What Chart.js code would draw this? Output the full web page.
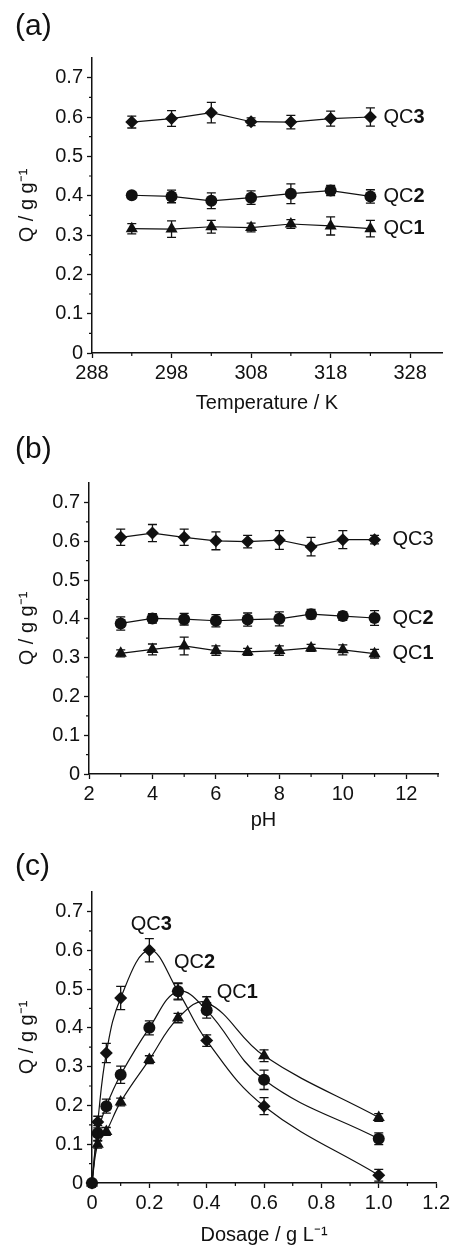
<!DOCTYPE html>
<html>
<head>
<meta charset="utf-8">
<script src="https://cdn.jsdelivr.net/npm/chart.js@4.4.0/dist/chart.umd.min.js"></script>
<style>
  html, body { margin: 0; padding: 0; background: #fff; }
  canvas { display: block; }
</style>
</head>
<body>
<canvas id="chartA" width="453" height="420"></canvas>
<canvas id="chartB" width="453" height="420"></canvas>
<canvas id="chartC" width="453" height="410"></canvas>
<script>
// ---- data ----
const yTicks = [0, 0.1, 0.2, 0.3, 0.4, 0.5, 0.6, 0.7];
const yMinor = [0.05, 0.15, 0.25, 0.35, 0.45, 0.55, 0.65];

// (a) temperature
const tempK = [293, 298, 303, 308, 313, 318, 323];
const tempTicks = [288, 298, 308, 318, 328];
const tempMinor = [293, 303, 313, 323];
const aQC1 = [0.316, 0.315, 0.321, 0.319, 0.328, 0.323, 0.316];
const aQC1Err = [0.013, 0.021, 0.016, 0.011, 0.011, 0.023, 0.021];
const aQC2 = [0.401, 0.398, 0.387, 0.395, 0.405, 0.413, 0.398];
const aQC2Err = [0.008, 0.016, 0.020, 0.017, 0.025, 0.013, 0.017];
const aQC3 = [0.587, 0.596, 0.611, 0.588, 0.587, 0.596, 0.600];
const aQC3Err = [0.015, 0.020, 0.026, 0.010, 0.017, 0.019, 0.023];

// (b) pH
const phVals = [3, 4, 5, 6, 7, 8, 9, 10, 11];
const phTicks = [2, 4, 6, 8, 10, 12];
const phMinor = [3, 5, 7, 9, 11, 13];
const bQC1 = [0.311, 0.321, 0.330, 0.318, 0.315, 0.318, 0.325, 0.320, 0.310];
const bQC1Err = [0.009, 0.014, 0.023, 0.012, 0.009, 0.012, 0.009, 0.013, 0.011];
const bQC2 = [0.388, 0.401, 0.399, 0.395, 0.398, 0.400, 0.412, 0.407, 0.402];
const bQC2Err = [0.017, 0.012, 0.015, 0.016, 0.017, 0.018, 0.012, 0.011, 0.019];
const bQC3 = [0.610, 0.621, 0.610, 0.601, 0.599, 0.603, 0.586, 0.604, 0.604];
const bQC3Err = [0.021, 0.022, 0.021, 0.023, 0.016, 0.024, 0.024, 0.023, 0.011];

// (c) dosage
const dosage = [0, 0.02, 0.05, 0.1, 0.2, 0.3, 0.4, 0.6, 1.0];
const doseTicks = [0, 0.2, 0.4, 0.6, 0.8, 1.0, 1.2];
const doseMinor = [0.1, 0.3, 0.5, 0.7, 0.9, 1.1];
const cQC1 = [0, 0.100, 0.133, 0.209, 0.318, 0.425, 0.465, 0.328, 0.169];
const cQC1Err = [0, 0.010, 0.010, 0.010, 0.010, 0.012, 0.015, 0.015, 0.010];
const cQC2 = [0, 0.128, 0.198, 0.279, 0.400, 0.494, 0.445, 0.266, 0.114];
const cQC2Err = [0, 0.020, 0.018, 0.022, 0.018, 0.022, 0.020, 0.025, 0.015];
const cQC3 = [0, 0.157, 0.335, 0.477, 0.600, 0.494, 0.367, 0.198, 0.020];
const cQC3Err = [0, 0.015, 0.025, 0.030, 0.030, 0.020, 0.015, 0.022, 0.015];

const ink = '#111';
const FONT = "'Liberation Sans', Arial, sans-serif";
Chart.defaults.font.family = FONT;
Chart.defaults.color = ink;

function pts(xs, ys) {
  return xs.map((x, i) => ({ x: x, y: ys[i] }));
}

// error bars, minor ticks, panel letter and series tags
const extras = {
  id: 'extras',
  afterDatasetsDraw(chart, args, opts) {
    const ctx = chart.ctx;
    const xs = chart.scales.x, ys = chart.scales.y;
    ctx.save();
    ctx.strokeStyle = ink;
    ctx.lineWidth = 1.3;
    chart.data.datasets.forEach(ds => {
      ds.data.forEach((p, i) => {
        const e = ds.errors[i];
        if (!e) return;
        const px = xs.getPixelForValue(p.x);
        const t = ys.getPixelForValue(p.y + e);
        const b = ys.getPixelForValue(p.y - e);
        ctx.beginPath();
        ctx.moveTo(px, t); ctx.lineTo(px, b);
        ctx.moveTo(px - 4.5, t); ctx.lineTo(px + 4.5, t);
        ctx.moveTo(px - 4.5, b); ctx.lineTo(px + 4.5, b);
        ctx.stroke();
      });
    });

    // minor ticks
    ctx.lineWidth = 1.2;
    ctx.beginPath();
    opts.xMinor.forEach(v => {
      const px = xs.getPixelForValue(v);
      ctx.moveTo(px, ys.bottom); ctx.lineTo(px, ys.bottom + 3);
    });
    opts.yMinor.forEach(v => {
      const py = ys.getPixelForValue(v);
      ctx.moveTo(xs.left, py); ctx.lineTo(xs.left - 3, py);
    });
    ctx.stroke();

    // panel letter
    ctx.fillStyle = ink;
    ctx.font = '30px ' + FONT;
    ctx.textBaseline = 'middle';
    ctx.textAlign = 'left';
    ctx.fillText(opts.panel, 15, opts.panelY);

    // series tags, "QC" plain + digit bold
    chart.data.datasets.forEach(ds => {
      const p = ds.data[ds.tagAt];
      const px = xs.getPixelForValue(p.x) + ds.tagDx;
      const py = ys.getPixelForValue(p.y) + ds.tagDy;
      ctx.font = '20px ' + FONT;
      const w1 = ctx.measureText('QC').width;
      ctx.font = (ds.tagBold ? 'bold ' : '') + '20px ' + FONT;
      const w2 = ctx.measureText(ds.tag).width;
      let x0 = ds.tagCenter ? px - (w1 + w2) / 2 : px;
      ctx.font = '20px ' + FONT;
      ctx.fillText('QC', x0, py);
      ctx.font = (ds.tagBold ? 'bold ' : '') + '20px ' + FONT;
      ctx.fillText(ds.tag, x0 + w1, py);
    });
    ctx.restore();
  }
};

function series(xs, ys, errs, style, radius, tension, tag) {
  return Object.assign({
    data: pts(xs, ys),
    errors: errs,
    showLine: true,
    borderColor: ink,
    borderWidth: 1.2,
    backgroundColor: ink,
    pointBackgroundColor: ink,
    pointBorderColor: ink,
    pointBorderWidth: 0,
    pointStyle: style,
    pointRadius: radius,
    tension: tension,
    clip: false,
    tagBold: true,
    tagCenter: false
  }, tag);
}

function axis(min, max, tickVals, fmt, title, size, opts) {
  return {
    type: 'linear',
    min: min,
    max: max,
    afterBuildTicks: s => { s.ticks = tickVals.map(v => ({ value: v })); },
    afterFit: s => {
      if (s.isHorizontal()) s.height = size; else s.width = size;
    },
    ticks: {
      autoSkip: false,
      maxRotation: 0,
      padding: opts.tickPad,
      color: ink,
      font: { size: 20 },
      callback: fmt
    },
    grid: {
      drawOnChartArea: false,
      drawTicks: true,
      tickLength: 5,
      tickWidth: 1.3,
      color: ink
    },
    border: { display: true, color: ink, width: 1.5 },
    title: {
      display: true,
      text: title,
      color: ink,
      font: { size: 20 },
      padding: opts.titlePad
    }
  };
}

const fmt1 = v => (v === 0 ? '0' : v.toFixed(1));
const fmt0 = v => String(v);

function makeChart(id, datasets, xAxis, yW, pad, extrasOpts) {
  return new Chart(document.getElementById(id), {
    type: 'scatter',
    data: { datasets: datasets },
    plugins: [extras],
    options: {
      responsive: false,
      animation: false,
      events: [],
      layout: { padding: pad },
      plugins: {
        legend: { display: false },
        tooltip: { enabled: false },
        extras: extrasOpts
      },
      scales: {
        x: xAxis,
        y: axis(0, 0.75, yTicks, fmt1, 'Q / g g\u207B\u00B9', yW,
                { tickPad: 4, titlePad: { top: 15, bottom: 0 } })
      }
    }
  });
}

// (a)
makeChart('chartA', [
  series(tempK, aQC1, aQC1Err, 'triangle', 7, 0, { tag: '1', tagAt: 6, tagDx: 13, tagDy: 0 }),
  series(tempK, aQC2, aQC2Err, 'circle', 6, 0, { tag: '2', tagAt: 6, tagDx: 13, tagDy: 0 }),
  series(tempK, aQC3, aQC3Err, 'rectRot', 6.5, 0, { tag: '3', tagAt: 6, tagDx: 13, tagDy: 0 })
], axis(288, 332, tempTicks, fmt0, 'Temperature / K', 67, { tickPad: 3, titlePad: { top: 0, bottom: 5 } }),
  92, { top: 58, right: 11, left: 0, bottom: 0 },
  { panel: '(a)', panelY: 27, xMinor: tempMinor, yMinor: yMinor });

// (b)
makeChart('chartB', [
  series(phVals, bQC1, bQC1Err, 'triangle', 7, 0, { tag: '1', tagAt: 8, tagDx: 18, tagDy: 0 }),
  series(phVals, bQC2, bQC2Err, 'circle', 6, 0, { tag: '2', tagAt: 8, tagDx: 18, tagDy: 0 }),
  series(phVals, bQC3, bQC3Err, 'rectRot', 6.5, 0, { tag: '3', tagAt: 8, tagDx: 18, tagDy: 0, tagBold: false })
], axis(2, 13, phTicks, fmt0, 'pH', 66, { tickPad: 3, titlePad: { top: 0, bottom: 8 } }),
  89, { top: 63, right: 15, left: 0, bottom: 0 },
  { panel: '(b)', panelY: 30, xMinor: phMinor, yMinor: yMinor });

// (c)
makeChart('chartC', [
  series(dosage, cQC1, cQC1Err, 'triangle', 7, 0.4, { tag: '1', tagAt: 6, tagDx: 10, tagDy: -10 }),
  series(dosage, cQC2, cQC2Err, 'circle', 6, 0.4, { tag: '2', tagAt: 5, tagDx: -4, tagDy: -29 }),
  series(dosage, cQC3, cQC3Err, 'rectRot', 6.5, 0.4, { tag: '3', tagAt: 4, tagDx: 2, tagDy: -26, tagCenter: true })
], axis(0, 1.2, doseTicks, fmt1, 'Dosage / g L\u207B\u00B9', 67, { tickPad: 3, titlePad: { top: 0, bottom: 3 } }),
  92, { top: 52, right: 11, left: 0, bottom: 0 },
  { panel: '(c)', panelY: 27, xMinor: doseMinor, yMinor: yMinor });
</script>
</body>
</html>
